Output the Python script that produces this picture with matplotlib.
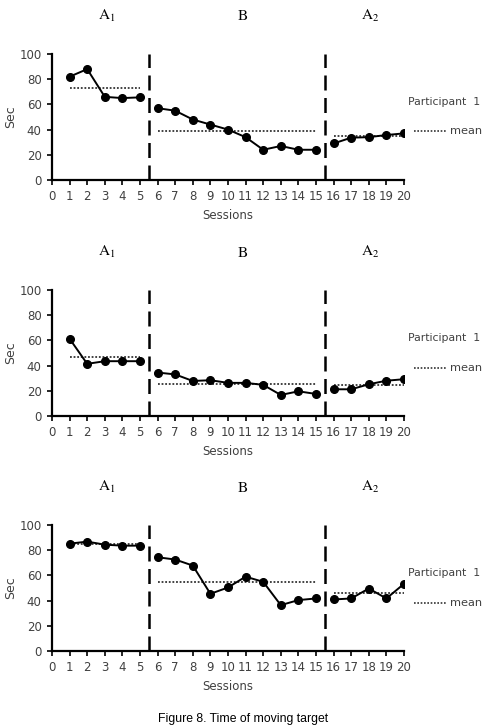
import numpy as np
import matplotlib.pyplot as plt

plt.rcParams['mathtext.fontset'] = 'stix'

sessions = list(range(1, 21))
phase_names = [r'$\mathrm{A}_1$', r'$\mathrm{B}$', r'$\mathrm{A}_2$']
phase_ranges = [(1, 5), (6, 15), (16, 20)]

# seconds per session, three panels
sec_1 = [82, 88, 66, 65, 65.6, 57, 55, 48, 44, 40, 34, 24, 27, 24, 24, 29, 33.6, 34, 35.7, 37]
sec_2 = [61.3, 41.4, 43.5, 43.5, 43.5, 34.5, 33, 27.8, 28.4, 26.3, 26.3, 24.7, 16.7, 19.6, 17.5,
         21.2, 21.2, 25.2, 28, 29.2]
sec_3 = [85.2, 86.8, 84.4, 83.6, 83.6, 74.4, 72.6, 67.8, 45.4, 50.4, 59, 54.9, 36.4, 40.4, 41.7,
         40.9, 41.7, 49.6, 41.7, 53.3]

# phase means (dotted lines)
mean_1 = [73.3, 38.6, 35]
mean_2 = [47, 25.7, 24.7]
mean_3 = [85, 54.4, 46.2]

phase_lines = [5.5, 15.5]
xticks = list(range(0, 21))
yticks = [0, 20, 40, 60, 80, 100]

W, H = 487, 727
fig = plt.figure(figsize=(W / 100, H / 100), dpi=100)

panels = [(sec_1, mean_1, 54), (sec_2, mean_2, 290), (sec_3, mean_3, 525)]
grey = '#404040'

for vals, means, top in panels:
    ax = fig.add_axes([52 / W, 1 - (top + 126) / H, 352 / W, 126 / H])
    vals = np.array(vals)
    s = np.array(sessions)
    for (a, b), m in zip(phase_ranges, means):
        sel = (s >= a) & (s <= b)
        ax.plot([a, b], [m, m], color='#333333', lw=1.3, linestyle=(0, (1, 1)), zorder=2)
        ax.plot(s[sel], vals[sel], color='black', lw=1.4, marker='o', markersize=5.5, zorder=3)
    for xv in phase_lines:
        ax.plot([xv, xv], [0, 100], color='black', lw=1.8, linestyle=(0, (6, 3)), clip_on=False)

    ax.set_xlim(0, 20)
    ax.set_ylim(0, 100)
    ax.set_xticks(xticks)
    ax.set_yticks(yticks)
    for sp in ['top', 'right']:
        ax.spines[sp].set_visible(False)
    for sp in ['left', 'bottom']:
        ax.spines[sp].set_linewidth(1.6)
    ax.tick_params(direction='out', length=3.5, width=1.2, labelsize=8.5, labelcolor=grey, pad=4)
    ax.set_ylabel('Sec', fontsize=9, color=grey)
    ax.yaxis.set_label_coords(-35 / 352, 0.5)
    ax.set_xlabel('Sessions', fontsize=8.5, color=grey, labelpad=4)

    # phase labels
    for name, px in zip(phase_names, [107, 243, 370]):
        fig.text(px / W, 1 - (top - 38) / H, name, fontsize=11, ha='center', va='center')

    # legend text on the right
    fig.text(480 / W, 1 - (top + 48) / H, 'Participant  1', fontsize=7.8, color=grey,
             ha='right', va='center')
    ymean = top + (77 if top == 54 else 78)
    fig.add_artist(plt.Line2D([414 / W, 446 / W], [1 - ymean / H, 1 - ymean / H],
                              color='#333333', lw=1.2, linestyle=(0, (1, 1))))
    fig.text(450 / W, 1 - ymean / H, 'mean', fontsize=8.2, color=grey, ha='left', va='center')

fig.text(243 / W, 1 - 719 / H, 'Figure 8. Time of moving target', fontsize=8.8, ha='center',
         va='center', family='Liberation Sans')

fig.savefig('out.png', dpi=100)
